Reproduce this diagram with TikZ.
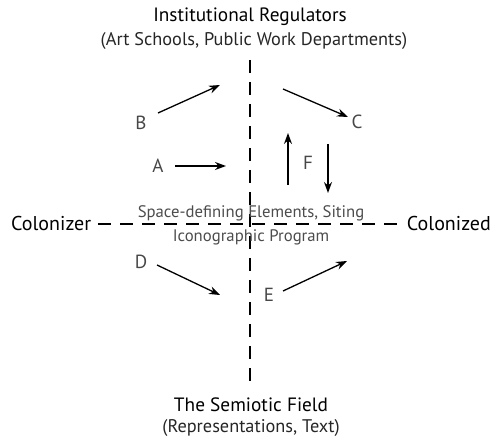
\documentclass[tikz,border=0pt]{standalone}
\usepackage{fontspec}
\setmainfont{PT Sans}
\usetikzlibrary{arrows.meta}
\begin{document}
\begin{tikzpicture}[x=1pt,y=-1pt,
  title/.style={font=\fontsize{19.3}{21}\selectfont, text=black, inner sep=0pt},
  sub/.style={font=\fontsize{18.3}{20}\selectfont, text=black!85, inner sep=0pt},
  side/.style={font=\fontsize{20}{22}\selectfont, text=black, inner sep=0pt},
  lab/.style={font=\fontsize{19}{21}\selectfont, text=black!72, inner sep=0pt},
  mid/.style={font=\fontsize{16.7}{18}\selectfont, text=black!70, inner sep=0pt},
  axis/.style={line width=2.6pt, dash pattern=on 13pt off 9pt},
  arr/.style={line width=1.3pt, -{Stealth[length=11pt,width=8pt]}}]
\useasboundingbox (0,0) rectangle (495,443);
% titles
\node[title] (top) at (250,17) {Institutional Regulators};
\node[sub] (topsub) at (254,41) {(Art Schools, Public Work Departments)};
\node[title] (bot) at (251,405) {The Semiotic Field};
\node[sub] (botsub) at (251,428) {(Representations, Text)};
\node[side, anchor=west] (left) at (11,224) {Colonizer};
\node[side, anchor=east] (right) at (491,224) {Colonized};
% axes
\coordinate (vt) at (250,60);
\coordinate (vb) at (250,386);
\draw[axis] (vt) -- (vb);
\coordinate (hl) at (98,224);
\coordinate (hr) at (401,224);
\draw[axis] (hl) -- (hr);
% centre text
\node[mid] (m1) at (251,213) {Space-defining Elements, Siting};
\node[mid] (m2) at (251,237) {Iconographic Program};
% labels
\node[lab] (A) at (158,166) {A};
\node[lab] (B) at (141,123) {B};
\node[lab] (C) at (357,122) {C};
\node[lab] (D) at (141,262) {D};
\node[lab] (E) at (269,295) {E};
\node[lab] (F) at (308,163) {F};
% arrow endpoints
\coordinate (a1) at (175,166); \coordinate (a2) at (226,166);
\coordinate (b1) at (158,113); \coordinate (b2) at (220,85);
\coordinate (c1) at (283,89);  \coordinate (c2) at (348,117);
\coordinate (d1) at (157,265); \coordinate (d2) at (220,295);
\coordinate (e1) at (283,291); \coordinate (e2) at (347,261);
\coordinate (f1) at (288,185); \coordinate (f2) at (288,133);
\coordinate (g1) at (328,144); \coordinate (g2) at (328,193);
\draw[arr] (a1) -- (a2);
\draw[arr] (b1) -- (b2);
\draw[arr] (c1) -- (c2);
\draw[arr] (d1) -- (d2);
\draw[arr] (e1) -- (e2);
\draw[arr] (f1) -- (f2);
\draw[arr] (g1) -- (g2);
\end{tikzpicture}
\end{document}
